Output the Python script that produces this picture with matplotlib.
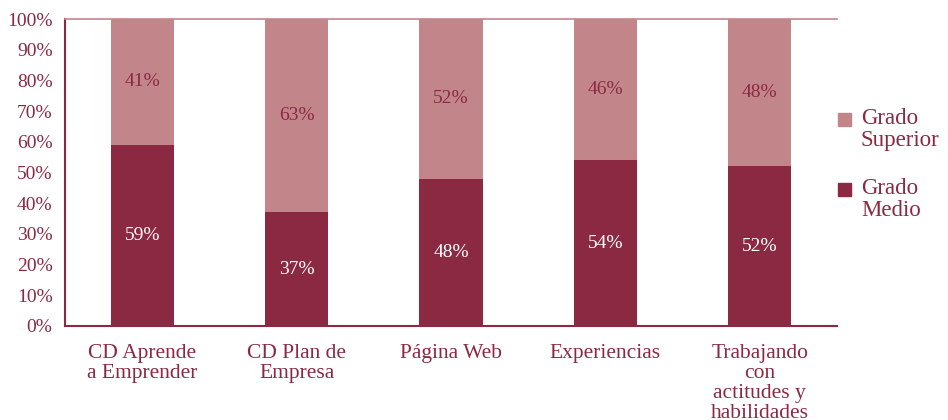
import matplotlib.pyplot as plt
import numpy as np
from matplotlib.patches import Rectangle

plt.rcParams["font.family"] = ["Liberation Serif", "DejaVu Serif"]

categories = ["CD Aprende\na Emprender", "CD Plan de\nEmpresa", "Página Web",
              "Experiencias", "Trabajando\ncon\nactitudes y\nhabilidades"]
grado_medio = [59, 37, 48, 54, 52]
grado_superior = [41, 63, 52, 46, 48]

dark = "#8B2942"
light = "#C2868A"

W, H = 948, 420
fig = plt.figure(figsize=(W / 100, H / 100), dpi=100)
ax = fig.add_axes([65 / W, 1 - 326 / H, 772 / W, 307 / H])

x = np.arange(len(categories))
medio = np.array(grado_medio) / 100
superior = np.array(grado_superior) / 100
ax.bar(x, medio, width=0.41, color=dark)
ax.bar(x, superior, width=0.41, bottom=medio, color=light)

for i in range(len(x)):
    ax.text(x[i], medio[i] / 2, f"{grado_medio[i]}%", ha="center", va="center",
            color="white", fontsize=14)
    ax.text(x[i], medio[i] + superior[i] / 2, f"{grado_superior[i]}%", ha="center",
            va="center", color=dark, fontsize=14)

ax.set_xlim(-0.5, len(x) - 0.5)
ax.set_ylim(0, 1)
yt = np.arange(0, 1.01, 0.1)
ax.set_yticks(yt)
ax.set_yticklabels([f"{int(round(v * 100))}%" for v in yt])
ax.set_xticks(x)
ax.set_xticklabels(categories, linespacing=1.07)
ax.tick_params(axis="y", length=0, labelsize=14, labelcolor=dark, pad=9)
ax.tick_params(axis="x", length=0, labelsize=15.5, labelcolor=dark, pad=13)

ax.spines["right"].set_visible(False)
ax.spines["left"].set_color(dark)
ax.spines["left"].set_linewidth(1.5)
ax.spines["bottom"].set_color(dark)
ax.spines["bottom"].set_linewidth(1.5)
ax.spines["top"].set_color(light)
ax.spines["top"].set_linewidth(1.2)

# legend drawn by hand: square next to the first line of each two-line label
legend_items = [("Grado", "Superior", light, 119), ("Grado", "Medio", dark, 189)]
for line1, line2, col, yc in legend_items:
    fig.patches.append(Rectangle((838 / W, 1 - (yc + 6.5) / H), 13 / W, 13 / H,
                                 transform=fig.transFigure, color=col))
    fig.text(861 / W, 1 - yc / H, line1, va="center", ha="left", color=dark,
             fontsize=16.5)
    fig.text(861 / W, 1 - (yc + 22) / H, line2, va="center", ha="left", color=dark,
             fontsize=16.5)

fig.savefig("out.png", dpi=100)
